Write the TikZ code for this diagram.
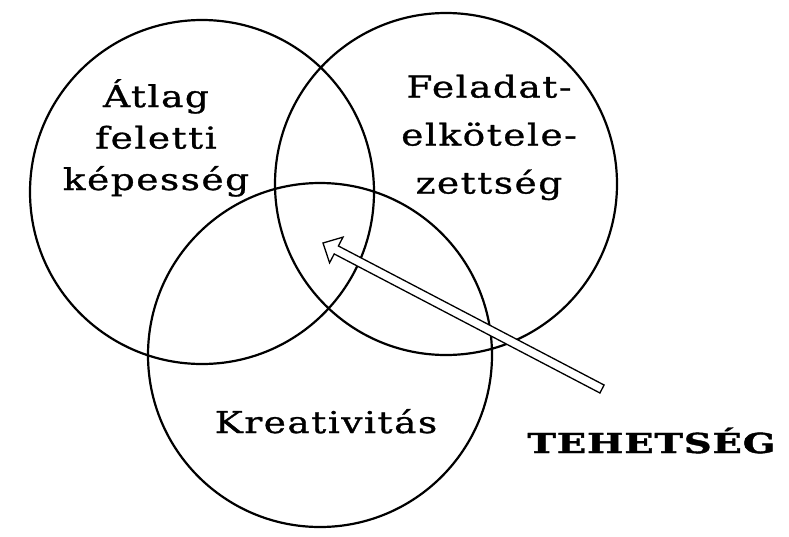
\documentclass[tikz,border=0pt]{standalone}
\usepackage{fontspec}
\setmainfont{DejaVu Serif}
\newfontfamily\circlefont{DejaVu Serif}[FakeStretch=1.25,LetterSpace=5,FakeBold=1]
\newfontfamily\titlefont{DejaVu Serif}[FakeStretch=1.4,LetterSpace=3,FakeBold=1.5]
\usetikzlibrary{calc}
\tikzset{
  ring/.style={line width=2.2pt},
  circlelabel/.style={align=center,anchor=base,inner sep=0pt},
}
\begin{document}
\begin{tikzpicture}[x=1pt,y=-1pt,line cap=round,line join=round]
      \fill[white] (0,0) rectangle (789,536);
      \useasboundingbox (0,0) rectangle (789,536);

      \draw[ring] (202,192) coordinate (L) circle[radius=172]
            (446,184) coordinate (R) circle[radius=171]
            (320,355) coordinate (K) circle[radius=172];

      % the base of a node with lines is its last line
      \node[circlelabel,font=\circlefont\fontsize{30}{41.5}\selectfont] (atlag) at (156,190) {Átlag\\feletti\\képesség};
      \node[circlelabel,font=\circlefont\fontsize{30}{48}\selectfont] (feladat) at (489,193.5) {Feladat-\\elkötele-\\zettség};
      \node[circlelabel,font=\circlefont\fontsize{30}{36}\selectfont] (kreativ) at (326,433) {Kreativitás};
      \node[circlelabel,font=\titlefont\bfseries\fontsize{27.5}{33}\selectfont] (tehetseg) at (651.5,453) {TEHETSÉG};

      \coordinate (tail) at (602,389);
      \coordinate (tip) at (323,243);
      \coordinate (hb) at ($(tip)!15pt!(tail)$);
      \filldraw[fill=white,line width=1.3pt,line join=miter]
            ($(tail)!4.5pt!90:(tip)$) -- ($(hb)!4.5pt!90:(tip)$) -- ($(hb)!14.5pt!90:(tip)$)
            -- (tip) -- ($(hb)!14.5pt!-90:(tip)$) -- ($(hb)!4.5pt!-90:(tip)$)
            -- ($(tail)!4.5pt!-90:(tip)$) -- cycle;
\end{tikzpicture}
\end{document}
